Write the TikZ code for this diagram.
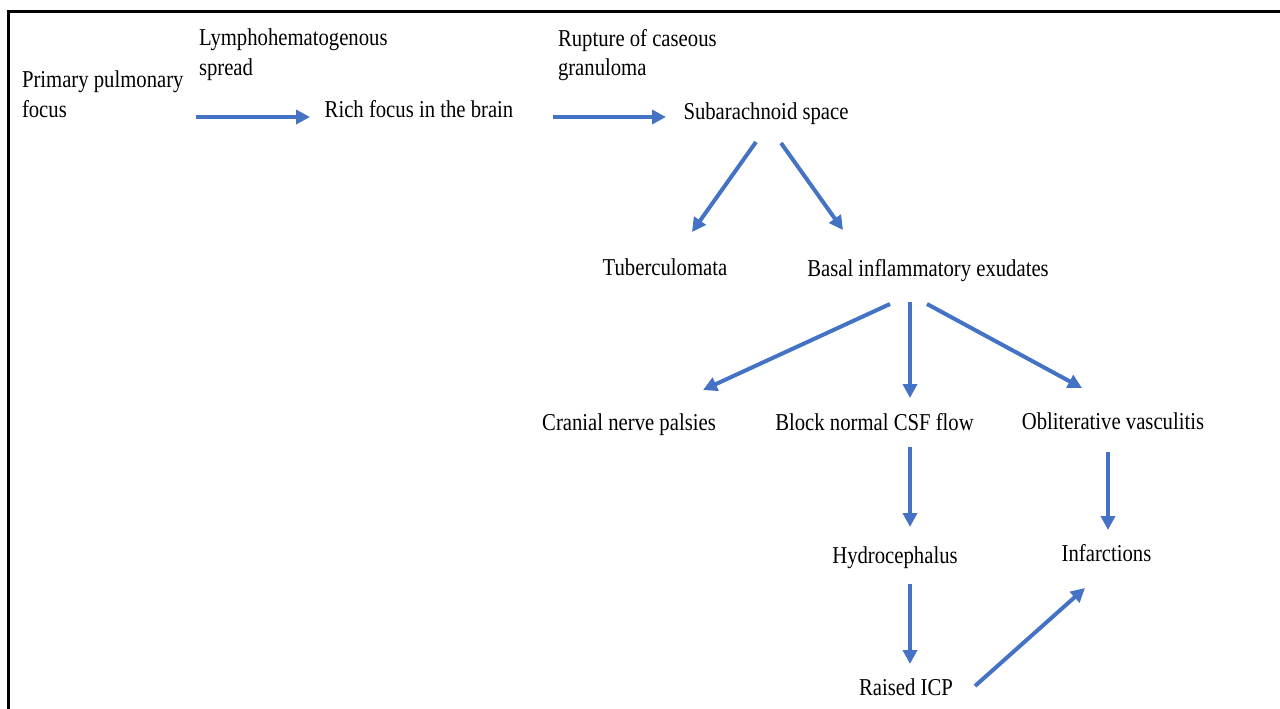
\documentclass[tikz,border=0pt]{standalone}
\usepackage{fontspec}
\setmainfont{Liberation Serif}[FakeStretch=0.855]
\usetikzlibrary{arrows.meta}
\definecolor{arrowblue}{HTML}{4472C4}
\tikzset{
  lbl/.style={inner sep=0pt, outer sep=0pt, font=\fontsize{24.3}{29.5}\selectfont},
  mlbl/.style={lbl, align=left, anchor=north west},
  flow/.style={draw=arrowblue, line width=4bp, -{Triangle[length=14bp,width=14bp]}},
  frame/.style={draw=black, line width=3bp}
}
\begin{document}
\begin{tikzpicture}[x=1bp,y=-1bp]
\useasboundingbox (0,0) rectangle (1280,709);
\draw[frame] (8,709) -- (8,12) -- (1280,12);

% texts
\node[mlbl] (primary) at (22,71) {Primary pulmonary\\focus};
\node[mlbl] (lympho) at (199,29) {Lymphohematogenous\\spread};
\node[mlbl] (rupture) at (558,29) {Rupture of caseous\\granuloma};
\node[lbl, anchor=base] (rich) at (419,118) {Rich focus in the brain};
\node[lbl, anchor=base] (sub) at (766,120) {Subarachnoid space};
\node[lbl, anchor=base] (tuber) at (665,275) {Tuberculomata};
\node[lbl, anchor=base] (basal) at (928,276) {Basal inflammatory exudates};
\node[lbl, anchor=base] (cranial) at (629,430) {Cranial nerve palsies};
\node[lbl, anchor=base] (block) at (874.5,430) {Block normal CSF flow};
\node[lbl, anchor=base] (oblit) at (1113,429) {Obliterative vasculitis};
\node[lbl, anchor=base] (hydro) at (895,563) {Hydrocephalus};
\node[lbl, anchor=base] (infarct) at (1106.5,561) {Infarctions};
\node[lbl, anchor=base] (icp) at (906,695) {Raised ICP};

% arrow endpoints
\coordinate (a1s) at (196,117);  \coordinate (a1e) at (310,117);
\coordinate (a2s) at (553,117);  \coordinate (a2e) at (666,117);
\coordinate (a3s) at (756,142);  \coordinate (a3e) at (692,232);
\coordinate (a4s) at (781,143);  \coordinate (a4e) at (843,230);
\coordinate (a5s) at (890,304);  \coordinate (a5e) at (703,390);
\coordinate (a6s) at (910,302);  \coordinate (a6e) at (910,398);
\coordinate (a7s) at (927,304);  \coordinate (a7e) at (1082,388);
\coordinate (a8s) at (910,447);  \coordinate (a8e) at (910,527);
\coordinate (a9s) at (1108,452); \coordinate (a9e) at (1108,530);
\coordinate (a10s) at (910,584); \coordinate (a10e) at (910,664);
\coordinate (a11s) at (975,686); \coordinate (a11e) at (1085,588);

\draw[flow] (a1s) -- (a1e);
\draw[flow] (a2s) -- (a2e);
\draw[flow] (a3s) -- (a3e);
\draw[flow] (a4s) -- (a4e);
\draw[flow] (a5s) -- (a5e);
\draw[flow] (a6s) -- (a6e);
\draw[flow] (a7s) -- (a7e);
\draw[flow] (a8s) -- (a8e);
\draw[flow] (a9s) -- (a9e);
\draw[flow] (a10s) -- (a10e);
\draw[flow] (a11s) -- (a11e);
\end{tikzpicture}
\end{document}
